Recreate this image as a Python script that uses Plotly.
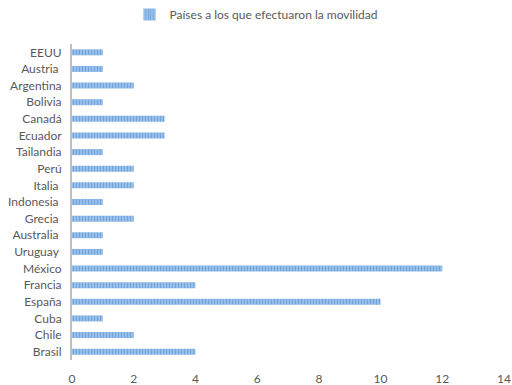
import plotly.graph_objects as go

countries = ["Brasil", "Chile", "Cuba", "España", "Francia", "México", "Uruguay\u00a0",
             "Australia\u00a0", "Grecia\u00a0", "Indonesia\u00a0", "Italia\u00a0", "Perú", "Tailandia",
             "Ecuador", "Canadá", "Bolivia", "Argentina", "Austria\u00a0", "EEUU"]
values = [4, 2, 1, 10, 4, 12, 1, 1, 2, 1, 2, 2, 1, 3, 3, 1, 2, 1, 1]
series_name = "Países a los que efectuaron la movilidad"
x_ticks = [0, 2, 4, 6, 8, 10, 12, 14]

fig = go.Figure()
fig.add_trace(go.Bar(
    y=countries, x=values, orientation="h", name=series_name,
    width=0.36,
    marker=dict(color="#8DB8E6", line=dict(width=0),
                pattern=dict(shape="|", fgcolor="#4A88CC", bgcolor="#9CC3EC",
                             size=3, solidity=0.45, fillmode="overlay")),
))

fig.update_layout(
    width=512, height=385,
    margin=dict(l=72, r=8, t=44, b=25, autoexpand=False),
    paper_bgcolor="white", plot_bgcolor="white",
    font=dict(family="Lato", size=12, color="#595959"),
    showlegend=True,
    legend=dict(orientation="h", x=0.5, xanchor="center", xref="container",
                y=1.0, yanchor="top", yref="container",
                font=dict(family="Lato", size=12, color="#595959"),
                itemwidth=30),
    bargap=0.64,
)
fig.update_xaxes(range=[0, 14], tickvals=x_ticks, showgrid=False, zeroline=False,
                 showline=False, ticks="outside", ticklen=8, tickcolor="rgba(0,0,0,0)",
                 tickfont=dict(size=12, color="#595959"), automargin=False)
fig.update_yaxes(categoryorder="array", categoryarray=countries, showgrid=False,
                 showline=True, linecolor="#BFBFBF", linewidth=2, ticks="outside",
                 ticklen=6, tickcolor="rgba(0,0,0,0)", range=[-0.5, 18.5],
                 tickfont=dict(size=12, color="#595959"), automargin=False)

fig.write_html("out.html")
